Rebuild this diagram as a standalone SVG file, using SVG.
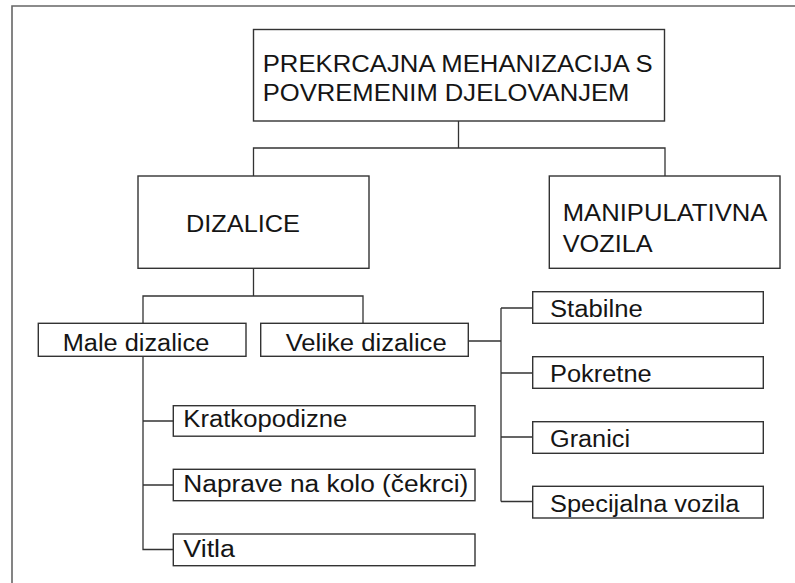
<svg xmlns="http://www.w3.org/2000/svg" width="795" height="583" viewBox="0 0 795 583">
<style>
.box{fill:#fff;stroke:#333;stroke-width:1.4}
.t{font-family:"Liberation Sans",Arial,sans-serif;font-size:23.5px;fill:#151515}
.c{fill:none;stroke:#333;stroke-width:1.3}
.frame{fill:none;stroke:#666;stroke-width:1.6}
</style>
<rect width="795" height="583" fill="#fff"/>
<path class="frame" d="M12,583 V6 H795"/>
<g id="connectors">
<path class="c" d="M458.5,121 V148 M253.5,176 V148 H665 V176"/>
<path class="c" d="M253.5,268 V296 M143,323 V296 H363 V323"/>
<path class="c" d="M143,356 V549.5 H173.5 M143,421 H173.5 M143,485 H173.5"/>
<path class="c" d="M468,341 H501 M501,308 V501.5 M501,308 H533 M501,373 H533 M501,437 H533 M501,501.5 H533"/>
</g>
<g id="n-root">
<rect class="box" x="253.5" y="29.5" width="411" height="91.5"/>
<text class="t" x="262.7" y="71.7" textLength="390" lengthAdjust="spacingAndGlyphs">PREKRCAJNA MEHANIZACIJA S</text>
<text class="t" x="262.7" y="100.7" textLength="366.7" lengthAdjust="spacingAndGlyphs">POVREMENIM DJELOVANJEM</text>
</g>
<g id="n-dizalice">
<rect class="box" x="138" y="176" width="231" height="92.3"/>
<text class="t" x="186" y="232" textLength="114" lengthAdjust="spacingAndGlyphs">DIZALICE</text>
</g>
<g id="n-manipulativna">
<rect class="box" x="549.3" y="176" width="230.7" height="92.3"/>
<text class="t" x="562.7" y="220.7" textLength="204.7" lengthAdjust="spacingAndGlyphs">MANIPULATIVNA</text>
<text class="t" x="562.7" y="251.7" textLength="90" lengthAdjust="spacingAndGlyphs">VOZILA</text>
</g>
<g id="n-male">
<rect class="box" x="38.3" y="323.3" width="207.7" height="33"/>
<text class="t" x="62.7" y="350.7" textLength="146.6" lengthAdjust="spacingAndGlyphs">Male dizalice</text>
</g>
<g id="n-velike">
<rect class="box" x="260.7" y="323.3" width="207.6" height="33"/>
<text class="t" x="285.7" y="350.7" textLength="161" lengthAdjust="spacingAndGlyphs">Velike dizalice</text>
</g>
<g id="n-kratkopodizne">
<rect class="box" x="173.3" y="405.7" width="301.7" height="30.5"/>
<text class="t" x="183.3" y="426.7" textLength="164" lengthAdjust="spacingAndGlyphs">Kratkopodizne</text>
</g>
<g id="n-naprave">
<rect class="box" x="173.3" y="469.3" width="301.7" height="31.4"/>
<text class="t" x="183.3" y="491.7" textLength="285" lengthAdjust="spacingAndGlyphs">Naprave na kolo (čekrci)</text>
</g>
<g id="n-vitla">
<rect class="box" x="173.3" y="534" width="301.7" height="31.7"/>
<text class="t" x="183.3" y="556.7" textLength="51.7" lengthAdjust="spacingAndGlyphs">Vitla</text>
</g>
<g id="n-stabilne">
<rect class="box" x="532.7" y="291.7" width="230.6" height="31.6"/>
<text class="t" x="550" y="316.7" textLength="92.7" lengthAdjust="spacingAndGlyphs">Stabilne</text>
</g>
<g id="n-pokretne">
<rect class="box" x="532.7" y="356.7" width="230.6" height="31.6"/>
<text class="t" x="550" y="381.7" textLength="101.7" lengthAdjust="spacingAndGlyphs">Pokretne</text>
</g>
<g id="n-granici">
<rect class="box" x="532.7" y="421.7" width="230.6" height="31.6"/>
<text class="t" x="550" y="446.7" textLength="80" lengthAdjust="spacingAndGlyphs">Granici</text>
</g>
<g id="n-specijalna">
<rect class="box" x="532.7" y="486.3" width="230.6" height="31.7"/>
<text class="t" x="550" y="511.7" textLength="189.3" lengthAdjust="spacingAndGlyphs">Specijalna vozila</text>
</g>
</svg>
